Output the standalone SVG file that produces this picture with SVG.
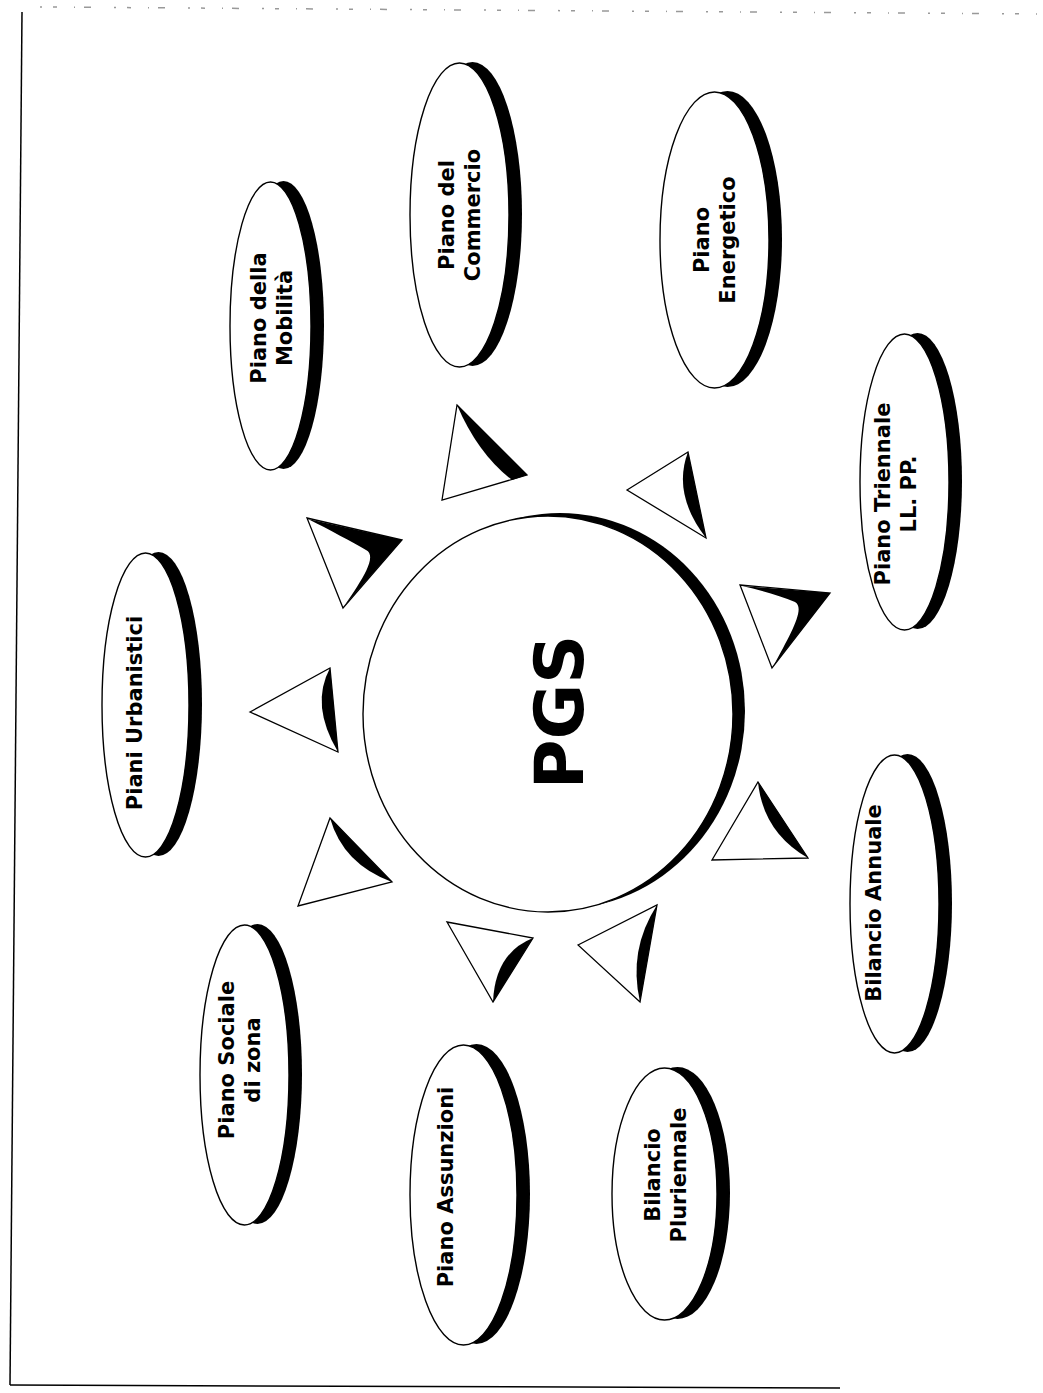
<svg xmlns="http://www.w3.org/2000/svg" width="1043" height="1393" viewBox="0 0 1043 1393">
<style>
.sh{fill:#000}
.body{fill:#fff;stroke:#000;stroke-width:1.4}
.tri{fill:#fff;stroke:#000;stroke-width:1.3}
.lbl{font-family:"DejaVu Sans",Verdana,sans-serif;font-weight:bold;font-size:21px;fill:#000;text-anchor:middle}
.big{font-family:"DejaVu Sans",Verdana,sans-serif;font-weight:bold;font-size:68px;fill:#000;text-anchor:middle}
.frame{fill:none;stroke:#000;stroke-width:1.5}
.noise{fill:none;stroke:#999;stroke-width:1.5;stroke-dasharray:2 11 4 17 1 9 7 23}
</style>
<rect width="1043" height="1393" fill="#fff"/>
<g id="frame">
<line class="frame" x1="22" y1="12" x2="10" y2="1385"/>
<line class="frame" x1="10" y1="1385" x2="840" y2="1388"/>
<line class="noise" x1="40" y1="7" x2="1043" y2="14"/>
</g>
<g id="connectors">
<g><polygon class="tri" points="250,712 330,668 338,752"/><path class="sh" d="M330,668 L338,752 Q310,705 330,668 Z"/></g>
<g><polygon class="tri" points="307,518 402,540 343,608"/><path class="sh" d="M308,519 L402,540 L345,605 C362,580 378,556 366,550 C352,542 330,530 308,519 Z"/></g>
<g><polygon class="tri" points="457,405 527,475 442,500"/><path class="sh" d="M457,405 L527,475 L512,480 Q478,454 457,405 Z"/></g>
<g><polygon class="tri" points="627,490 688,452 706,538"/><path class="sh" d="M688,452 L706,538 Q672,494 688,452 Z"/></g>
<g><polygon class="tri" points="740,585 830,593 772,668"/><path class="sh" d="M742,586 L830,593 L774,665 C790,635 806,608 795,602 C780,596 760,590 742,586 Z"/></g>
<g><polygon class="tri" points="758,782 808,858 712,860"/><path class="sh" d="M758,782 L808,858 Q763,832 758,782 Z"/></g>
<g><polygon class="tri" points="578,945 657,905 640,1002"/><path class="sh" d="M657,905 L640,1002 Q628,950 657,905 Z"/></g>
<g><polygon class="tri" points="447,922 533,938 493,1002"/><path class="sh" d="M533,938 L493,1002 Q495,953 533,938 Z"/></g>
<g><polygon class="tri" points="330,818 392,882 298,906"/><path class="sh" d="M330,818 L392,882 Q343,864 330,818 Z"/></g>
</g>
<g id="pgs">
<ellipse class="sh" cx="560" cy="711" rx="185" ry="198"/>
<ellipse class="body" cx="548" cy="714" rx="185" ry="198"/>
<text class="big" transform="translate(583,712) rotate(-90)">PGS</text>
</g>
<g id="piani-urbanistici">
<ellipse class="sh" cx="158.5" cy="704" rx="43.5" ry="152"/>
<ellipse class="body" cx="145.5" cy="705" rx="43.5" ry="152"/>
<text class="lbl" transform="translate(142.4,713) rotate(-90)">Piani Urbanistici</text>
</g>
<g id="piano-mobilita">
<ellipse class="sh" cx="283.5" cy="325" rx="40.5" ry="144"/>
<ellipse class="body" cx="270.5" cy="326" rx="40.5" ry="144"/>
<text class="lbl" transform="translate(266.4,318) rotate(-90)">Piano della</text>
<text class="lbl" transform="translate(292.4,318) rotate(-90)">Mobilità</text>
</g>
<g id="piano-commercio">
<ellipse class="sh" cx="472.5" cy="214" rx="49.5" ry="152"/>
<ellipse class="body" cx="459.5" cy="215" rx="49.5" ry="152"/>
<text class="lbl" transform="translate(454.4,215) rotate(-90)">Piano del</text>
<text class="lbl" transform="translate(480.4,215) rotate(-90)">Commercio</text>
</g>
<g id="piano-energetico">
<ellipse class="sh" cx="727.5" cy="239" rx="54.5" ry="148"/>
<ellipse class="body" cx="714.5" cy="240" rx="54.5" ry="148"/>
<text class="lbl" transform="translate(709.4,240) rotate(-90)">Piano</text>
<text class="lbl" transform="translate(735.4,240) rotate(-90)">Energetico</text>
</g>
<g id="piano-triennale">
<ellipse class="sh" cx="917.5" cy="481" rx="44.5" ry="148"/>
<ellipse class="body" cx="904.5" cy="482" rx="44.5" ry="148"/>
<text class="lbl" transform="translate(890.4,494) rotate(-90)">Piano Triennale</text>
<text class="lbl" transform="translate(916.4,494) rotate(-90)">LL. PP.</text>
</g>
<g id="bilancio-annuale">
<ellipse class="sh" cx="907.5" cy="903" rx="44.5" ry="149"/>
<ellipse class="body" cx="894.5" cy="904" rx="44.5" ry="149"/>
<text class="lbl" transform="translate(881.4,903) rotate(-90)">Bilancio Annuale</text>
</g>
<g id="bilancio-pluriennale">
<ellipse class="sh" cx="677.5" cy="1193" rx="52.5" ry="126"/>
<ellipse class="body" cx="664.5" cy="1194" rx="52.5" ry="126"/>
<text class="lbl" transform="translate(660.4,1175) rotate(-90)">Bilancio</text>
<text class="lbl" transform="translate(686.4,1175) rotate(-90)">Pluriennale</text>
</g>
<g id="piano-assunzioni">
<ellipse class="sh" cx="476.5" cy="1194" rx="53.5" ry="150"/>
<ellipse class="body" cx="463.5" cy="1195" rx="53.5" ry="150"/>
<text class="lbl" transform="translate(453.4,1187) rotate(-90)">Piano Assunzioni</text>
</g>
<g id="piano-sociale">
<ellipse class="sh" cx="257.5" cy="1074" rx="44.5" ry="150"/>
<ellipse class="body" cx="244.5" cy="1075" rx="44.5" ry="150"/>
<text class="lbl" transform="translate(234.4,1060) rotate(-90)">Piano Sociale</text>
<text class="lbl" transform="translate(260.4,1060) rotate(-90)">di zona</text>
</g>
</svg>
